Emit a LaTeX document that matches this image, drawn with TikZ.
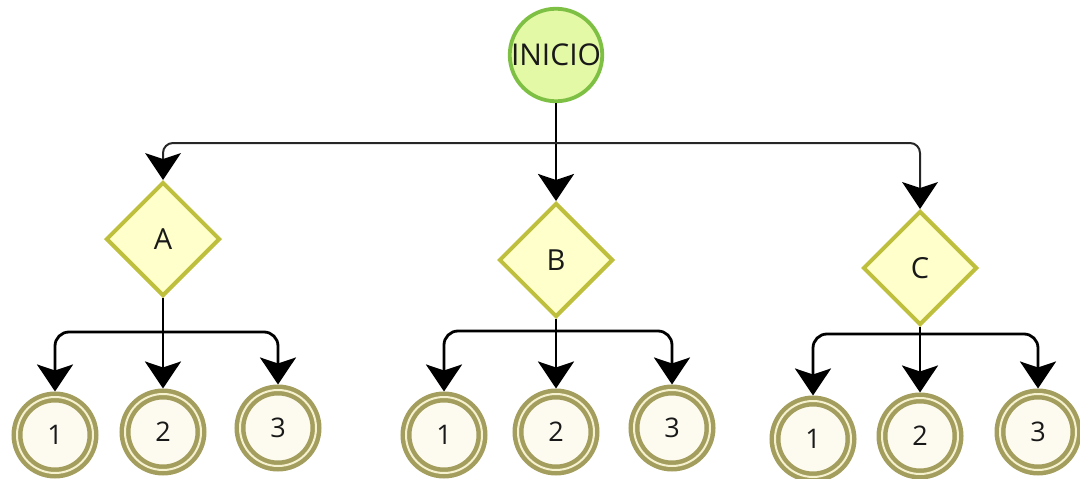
\documentclass[tikz,border=0pt]{standalone}
\usepackage{fontspec}
\setmainfont{Open Sans}
\usetikzlibrary{shapes.geometric,arrows.meta}
\definecolor{inifill}{HTML}{E4F9A6}
\definecolor{inidraw}{HTML}{7EC043}
\definecolor{dfill}{HTML}{FFFFCC}
\definecolor{ddraw}{HTML}{BFBF3E}
\definecolor{ring}{HTML}{A39E5E}
\definecolor{ringgap}{HTML}{F6F1CF}
\definecolor{cfill}{HTML}{FDFAEF}
\tikzset{
  startnode/.style={circle, fill=inifill, draw=inidraw, line width=3.8pt, minimum size=88pt, inner sep=0pt,
    font=\fontsize{30}{36}\selectfont, text=black!90},
  decision/.style={diamond, aspect=1, fill=dfill, draw=ddraw, line width=4pt, minimum width=114pt, minimum height=114pt,
    inner sep=0pt, font=\fontsize{29}{34}\selectfont, text=black!90},
  endnode/.style={circle, fill=cfill, draw=ring, line width=4.5pt, double=ringgap, double distance=2pt,
    minimum size=76pt, inner sep=0pt, outer sep=5.5pt, font=\fontsize{27}{32}\selectfont, text=black!90},
  conn/.style={line width=2.8pt, black, rounded corners=14pt, -{Stealth[length=27pt, width=36pt, inset=6pt]}},
  topconn/.style={line width=2pt, black!85, rounded corners=10pt, -{Stealth[length=27pt, width=36pt, inset=6pt, line width=0pt, fill=black]}},
}
\begin{document}
\begin{tikzpicture}[x=1pt, y=-1pt]
\useasboundingbox (0,0) rectangle (1080,479);
\node[startnode] (ini) at (556,55) {INICIO};
\node[decision] (A) at (163,239) {A};
\node[decision] (B) at (556,260) {B};
\node[decision] (C) at (920,268) {C};

\node[endnode] (A1) at (55,435) {1};
\node[endnode] (A2) at (163,432) {2};
\node[endnode] (A3) at (278,428) {3};
\node[endnode] (B1) at (444,435) {1};
\node[endnode] (B2) at (556,432) {2};
\node[endnode] (B3) at (672,428) {3};
\node[endnode] (C1) at (813,439) {1};
\node[endnode] (C2) at (920,436) {2};
\node[endnode] (C3) at (1038,432) {3};

\coordinate (hT) at (556,143);
\coordinate (hA) at (163,332);
\coordinate (hB) at (556,331);
\coordinate (hC) at (920,334);

% top level
\draw[conn, rounded corners=0pt] (ini.south) -- (B.north);
\draw[topconn] (hT) -| (A.north);
\draw[topconn] (hT) -| (C.north);

% A branch
\draw[conn] (A.south) -- (A2.north);
\draw[conn] (hA) -| (A1.north);
\draw[conn] (hA) -| (A3.north);
% B branch
\draw[conn] (B.south) -- (B2.north);
\draw[conn] (hB) -| (B1.north);
\draw[conn] (hB) -| (B3.north);
% C branch
\draw[conn] (C.south) -- (C2.north);
\draw[conn] (hC) -| (C1.north);
\draw[conn] (hC) -| (C3.north);
\end{tikzpicture}
\end{document}
